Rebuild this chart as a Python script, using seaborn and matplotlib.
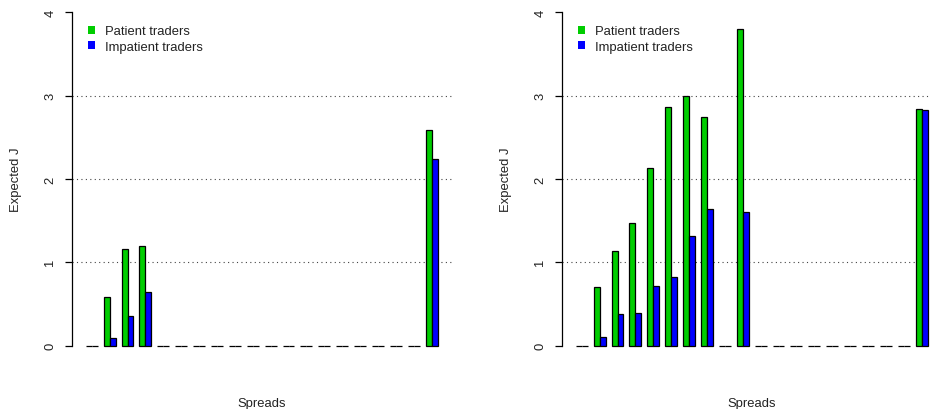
import matplotlib
matplotlib.use("Agg")
import matplotlib.pyplot as plt
from matplotlib.patches import Patch
import seaborn as sns
import pandas as pd

# Spread categories (x positions of the bar groups)
spreads = ["s01", "s02", "s03", "s04", "s05", "s06", "s07", "s08", "s09", "s10",
           "s11", "s12", "s13", "s14", "s15", "s16", "s17", "s18", "s19", "s20"]

series_names = ["Patient traders", "Impatient traders"]

# Left panel
left_patient = [0, 0.58, 1.16, 1.20, 0, 0, 0, 0, 0, 0,
                0, 0, 0, 0, 0, 0, 0, 0, 0, 2.59]
left_impatient = [0, 0.09, 0.36, 0.64, 0, 0, 0, 0, 0, 0,
                  0, 0, 0, 0, 0, 0, 0, 0, 0, 2.24]

# Right panel
right_patient = [0, 0.71, 1.14, 1.47, 2.13, 2.87, 3.00, 2.74, 0, 3.80,
                 0, 0, 0, 0, 0, 0, 0, 0, 0, 2.84]
right_impatient = [0, 0.10, 0.38, 0.39, 0.72, 0.82, 1.32, 1.64, 0, 1.61,
                   0, 0, 0, 0, 0, 0, 0, 0, 0, 2.83]

y_ticks = [0, 1, 2, 3, 4]
grid_levels = [1, 2, 3]

colors = ["#00CD00", "#0000FF"]

sns.set_theme(style="white")
plt.rcParams["font.family"] = ["Liberation Sans", "DejaVu Sans"]
FS = 9.4

W, H = 931, 410
fig = plt.figure(figsize=(W / 100, H / 100), dpi=100)


def long_frame(patient, impatient):
    return pd.DataFrame({
        "Spread": spreads * 2,
        "Trader": [series_names[0]] * len(spreads) + [series_names[1]] * len(spreads),
        "J": list(patient) + list(impatient),
    })


def draw_panel(left_px, patient, impatient):
    ax = fig.add_axes([left_px / W, 50 / H, 380 / W, 360 / H])
    df = long_frame(patient, impatient)
    sns.barplot(data=df, x="Spread", y="J", hue="Trader", order=spreads,
                hue_order=series_names, palette=colors, saturation=1,
                width=2 / 3, gap=0, edgecolor="black", linewidth=0.9,
                errorbar=None, legend=False, ax=ax)
    ax.set_xlim(-1 / 3 - 0.787, len(spreads) - 2 / 3 + 0.787)
    ax.set_ylim(-0.16, 4.16)

    for lv in grid_levels:
        ax.axhline(lv, color="#444444", linewidth=0.8,
                   linestyle=(0, (1, 3)), zorder=0)

    for side in ["top", "right", "bottom"]:
        ax.spines[side].set_visible(False)
    ax.spines["left"].set_bounds(0, 4)
    ax.spines["left"].set_color("black")
    ax.spines["left"].set_linewidth(0.9)

    ax.set_xticks([])
    ax.set_yticks(y_ticks)
    ax.set_yticklabels([str(t) for t in y_ticks])
    ax.tick_params(axis="y", left=True, length=5, width=0.9, color="black",
                   pad=6, labelsize=FS, labelcolor="#222222")
    for lab in ax.get_yticklabels():
        lab.set_rotation(90)
        lab.set_va("center")

    ax.set_ylabel("Expected J", fontsize=FS, color="#222222", va="center")
    ax.yaxis.set_label_coords(-0.147, 0.5)
    ax.set_xlabel("Spreads", fontsize=FS, color="#222222", va="baseline")
    ax.xaxis.set_label_coords(0.5, -0.1306)

    handles = [Patch(facecolor=c, edgecolor="none") for c in colors]
    ax.legend(handles, series_names, loc="upper left",
              bbox_to_anchor=(0.043, 0.927), frameon=False, fontsize=FS,
              handlelength=0.55, handleheight=0.55, handletextpad=0.75,
              labelspacing=0.25, borderpad=0, borderaxespad=0,
              labelcolor="#222222")
    return ax


draw_panel(71.7, left_patient, left_impatient)
draw_panel(561.7, right_patient, right_impatient)

fig.savefig("out.png", dpi=100)
